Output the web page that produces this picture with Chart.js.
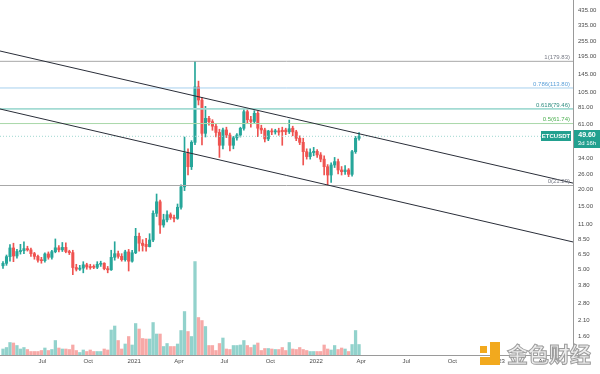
<!DOCTYPE html>
<html>
<head>
<meta charset="utf-8">
<script src="https://cdn.jsdelivr.net/npm/chart.js@4.4.0/dist/chart.umd.min.js"></script>
<style>
  html, body { margin: 0; padding: 0; background: #fff; }
  canvas { display: block; }
</style>
</head>
<body>
<canvas id="chart" width="600" height="374"></canvas>
<script>
// weekly ETCUSDT candles, first bar opens this Monday
const firstWeek = '2020-04-13';

const opens = [5.36, 5.59, 6.27, 7.28, 6.34, 6.85, 6.95, 7.20, 7.05, 6.60,
  6.30, 5.95, 5.85, 6.57, 6.20, 6.83, 7.30, 7.05, 7.35, 6.85,
  6.72, 5.20, 5.05, 5.15, 5.45, 5.25, 5.30, 5.22, 5.50, 5.60,
  5.10, 5.00, 6.20, 6.60, 6.30, 5.95, 6.80, 5.80, 6.70, 8.90,
  7.90, 7.75, 7.45, 8.35, 13.2, 16.1, 10.8, 11.8, 12.9, 12.3,
  12.1, 14.65, 20.8, 37.2, 29.4, 44.7, 116, 92.5, 52.2, 67.5,
  63.8, 59, 53, 42.5, 55.3, 50.7, 42.5, 48.3, 50.7, 56.9,
  75.7, 66, 64, 73.6, 57, 55.3, 47.4, 54.3, 53.5, 54.5,
  55.0, 55.3, 53.6, 57, 53.5, 47.9, 44.7, 38.1, 35, 37.5,
  38.3, 36, 33.5, 29.4, 25.5, 30.3, 32.1, 27.8, 27.0, 27.8,
  25.8, 38.1, 47.9];
const highs = [5.75, 6.45, 7.70, 7.90, 7.10, 7.75, 8.10, 7.50, 7.25, 6.75,
  6.45, 6.20, 6.70, 6.80, 7.00, 8.50, 7.60, 8.00, 7.95, 7.00,
  7.00, 5.50, 5.40, 5.75, 5.60, 5.50, 5.45, 5.75, 5.80, 5.65,
  5.30, 7.00, 8.10, 6.90, 6.60, 7.00, 7.10, 7.00, 10.2, 9.40,
  8.40, 8.60, 9.30, 13.8, 18.4, 16.6, 13.0, 13.8, 13.3, 12.8,
  15.5, 21.5, 49.0, 40.0, 46.0, 179.83, 128, 97, 83, 70,
  66, 61, 56, 57, 58, 52.5, 49.5, 52, 58, 79,
  78.5, 70, 77, 76, 60, 57, 55, 56.5, 56, 57,
  58, 57, 65.6, 59, 55, 50, 48, 40, 40, 41,
  39.5, 37.5, 35.5, 30.5, 31.5, 34.5, 33.5, 29.5, 30, 28.5,
  39, 49.5, 52.8];
const lows = [5.13, 5.40, 5.80, 5.75, 6.10, 6.55, 6.60, 6.90, 6.30, 6.00,
  5.70, 5.60, 5.70, 6.00, 6.00, 6.70, 6.80, 6.85, 6.70, 6.50,
  4.60, 4.90, 4.95, 4.75, 5.05, 5.05, 5.10, 5.10, 5.30, 5.00,
  4.75, 4.95, 5.90, 6.10, 5.80, 5.80, 4.90, 5.70, 6.60, 6.90,
  6.90, 6.90, 7.40, 8.10, 12.5, 9.36, 10.4, 11.4, 11.9, 11.4,
  11.9, 14.2, 19.5, 25.5, 28.0, 43.0, 85, 42.7, 49, 60,
  55, 49, 34.5, 40, 48.5, 38.5, 40, 46.5, 49, 55,
  62, 58, 62, 49.3, 52, 45, 46, 51, 51.5, 50.5,
  42.5, 51, 52, 50, 46, 43, 30.3, 33.5, 33.5, 35.5,
  34.5, 32, 25.5, 21.29, 22.5, 29, 26, 25.5, 25.8, 24.8,
  25, 37, 46.5];
const closes = [5.59, 6.27, 7.28, 6.34, 6.85, 6.95, 7.20, 7.05, 6.60, 6.30,
  5.90, 5.85, 6.57, 6.20, 6.83, 7.30, 7.05, 7.35, 6.85, 6.72,
  5.20, 5.05, 5.15, 5.45, 5.25, 5.20, 5.22, 5.50, 5.60, 5.10,
  5.00, 6.20, 6.60, 6.30, 5.95, 6.80, 5.80, 6.70, 8.90, 7.90,
  7.60, 7.45, 8.35, 13.2, 16.1, 10.8, 11.8, 12.9, 12.3, 12.1,
  14.65, 20.8, 37.2, 29.4, 44.7, 116, 92.5, 52.2, 67.5, 63.8,
  59, 53, 42.5, 55.3, 50.7, 42.5, 48.3, 50.7, 56.9, 75.7,
  66, 64, 73.6, 57, 55.3, 47.4, 54.3, 53.5, 54.5, 53.3,
  53.7, 53.6, 56.5, 53.5, 47.9, 44.7, 38.1, 35, 37.5, 38.3,
  36, 33.5, 29.4, 25.5, 30.3, 32.1, 27.8, 27.0, 27.8, 25.8,
  38.1, 47.9, 49.6];
const volumes = [12, 15, 25, 24, 19, 12, 15, 11, 7, 7,
  7, 9, 14, 9, 11, 29, 14, 12, 12, 11,
  20, 9, 5, 10, 7, 10, 7, 7, 7, 12,
  10, 50, 58, 29, 12, 22, 37, 20, 63, 52,
  33, 32, 32, 65, 42, 42, 17, 23, 17, 17,
  22, 49, 87, 47, 37, 187, 75, 69, 57, 19,
  19, 9, 23, 34, 12, 11, 19, 19, 20, 29,
  19, 15, 20, 24, 9, 13, 13, 12, 11, 11,
  15, 9, 25, 12, 11, 15, 11, 9, 7, 7,
  7, 7, 20, 12, 10, 19, 11, 14, 12, 7,
  21, 49, 21];

const symbol = 'ETCUSDT';
const lastPrice = 49.60;
const timeLeft = '3d 16h';

const fibLevels = [179.83, 113.80, 79.46, 61.74, 21.29];
const fibLabels = ['1(179.83)', '0.786(113.80)', '0.618(79.46)', '0.5(61.74)', '0(21.29)'];
const fibLineColors = ['#a8a8a8', '#a6d0ee', '#a3dbd3', '#a9d8a9', '#a8a8a8'];
const fibTextColors = ['#787b86', '#5a9fd8', '#2f8d80', '#4caf50', '#787b86'];

const priceTicks = [435, 335, 255, 195, 145, 105, 81, 61, 34, 26, 20, 15, 11, 8.5, 6.5, 5, 3.8, 2.8, 2.1, 1.6];
const timeTickDates = ['2020-07-01', '2020-10-01', '2021-01-01', '2021-04-01', '2021-07-01', '2021-10-01',
  '2022-01-01', '2022-04-01', '2022-07-01', '2022-10-01', '2023-01-01', '2023-04-01'];
const timeTickLabels = ['Jul', 'Oct', '2021', 'Apr', 'Jul', 'Oct', '2022', 'Apr', 'Jul', 'Oct', '2023', 'Apr'];

const viewStart = '2020-04-07';
const viewEnd = '2023-05-31';
const upperChannel = [[viewStart, 214.8], [viewEnd, 22.2]];
const lowerChannel = [[viewStart, 79.3], [viewEnd, 8.07]];

const UP = '#26a69a';
const DOWN = '#ef5350';

// days since 2020-01-01, used as the x value
function dayOf(s) {
    const p = s.split('-').map(Number);
    return (Date.UTC(p[0], p[1] - 1, p[2]) - Date.UTC(2020, 0, 1)) / 86400000;
}

const x0 = dayOf(firstWeek);
const xs = opens.map((_, i) => x0 + 7 * i);
const isUp = opens.map((o, i) => closes[i] >= o);
const xMin = dayOf(viewStart);
const xMax = dayOf(viewEnd);

const datasets = [];

// trend channel
[upperChannel, lowerChannel].forEach(line => {
    datasets.push({
        type: 'line',
        data: line.map(p => ({ x: dayOf(p[0]), y: p[1] })),
        borderColor: '#2a2e39',
        borderWidth: 1,
        pointRadius: 0,
        yAxisID: 'y',
        order: 1
    });
});

// fib levels
fibLevels.forEach((lvl, k) => {
    datasets.push({
        type: 'line',
        data: [{ x: xMin, y: lvl }, { x: xMax, y: lvl }],
        borderColor: fibLineColors[k],
        borderWidth: k === 2 ? 1.6 : 1,
        pointRadius: 0,
        yAxisID: 'y',
        order: 3
    });
});

// last price line
datasets.push({
    type: 'line',
    data: [{ x: xMin, y: lastPrice }, { x: xMax, y: lastPrice }],
    borderColor: '#9fd8d0',
    borderWidth: 1,
    borderDash: [1, 2],
    pointRadius: 0,
    yAxisID: 'y',
    order: 3
});

// candle bodies
datasets.push({
    type: 'bar',
    data: xs.map((x, i) => ({ x: x, y: [opens[i], closes[i]] })),
    backgroundColor: isUp.map(u => u ? UP : DOWN),
    barThickness: 2.4,
    minBarLength: 1,
    grouped: false,
    yAxisID: 'y',
    order: 4
});

// wicks
datasets.push({
    type: 'bar',
    data: xs.map((x, i) => ({ x: x, y: [lows[i], highs[i]] })),
    backgroundColor: isUp.map(u => u ? UP : DOWN),
    barThickness: 1,
    grouped: false,
    yAxisID: 'y',
    order: 5
});

// volume
datasets.push({
    type: 'bar',
    data: xs.map((x, i) => ({ x: x, y: volumes[i] })),
    backgroundColor: isUp.map(u => u ? 'rgba(38,166,154,0.5)' : 'rgba(239,83,80,0.5)'),
    barThickness: 2.6,
    grouped: false,
    yAxisID: 'yv',
    order: 10
});

const overlay = {
    id: 'overlay',
    afterDraw(chart) {
        const c = chart.ctx;
        const y = chart.scales.y;
        const area = chart.chartArea;
        c.save();

        // fib texts
        c.font = '6px "Liberation Sans", Arial, sans-serif';
        c.textAlign = 'right';
        c.textBaseline = 'bottom';
        fibLevels.forEach((lvl, k) => {
            c.fillStyle = fibTextColors[k];
            c.fillText(fibLabels[k], area.right - 3, y.getPixelForValue(lvl) - 1);
        });

        // symbol tag and last price tag
        const py = Math.round(y.getPixelForValue(lastPrice));
        c.fillStyle = '#22a08f';
        c.fillRect(area.right - 32, py - 5, 30, 10);
        c.fillRect(area.right + 1, py - 6, 26, 18);
        c.fillStyle = '#fff';
        c.textAlign = 'center';
        c.textBaseline = 'middle';
        c.font = 'bold 6px "Liberation Sans", Arial, sans-serif';
        c.fillText(symbol, area.right - 17, py + 0.5);
        c.font = 'bold 7px "Liberation Sans", Arial, sans-serif';
        c.fillText(lastPrice.toFixed(2), area.right + 14, py - 1);
        c.font = '6px "Liberation Sans", Arial, sans-serif';
        c.fillText(timeLeft, area.right + 14, py + 7);

        // watermark
        c.fillStyle = '#f2a91e';
        c.fillRect(490, 342, 10, 22);
        c.fillRect(480, 357, 20, 8);
        c.fillRect(480, 346, 7, 7);
        c.font = 'bold 21px "Noto Sans CJK SC", sans-serif';
        c.textAlign = 'left';
        c.textBaseline = 'middle';
        c.lineWidth = 1;
        c.fillStyle = 'rgba(236,236,236,0.92)';
        c.strokeStyle = '#9c9c9c';
        c.fillText('金色财经', 507, 354);
        c.strokeText('金色财经', 507, 354);
        c.restore();
    }
};

function noPad(s) {
    s.paddingTop = 0;
    s.paddingBottom = 0;
    s.paddingLeft = 0;
    s.paddingRight = 0;
}

new Chart(document.getElementById('chart'), {
    type: 'bar',
    data: { datasets: datasets },
    options: {
        responsive: false,
        animation: false,
        devicePixelRatio: 1,
        layout: { padding: 0 },
        plugins: { legend: { display: false }, tooltip: { enabled: false } },
        scales: {
            x: {
                type: 'linear',
                position: 'bottom',
                min: xMin,
                max: xMax,
                offset: false,
                grid: { display: false, drawTicks: false },
                border: { color: '#9a9a9a' },
                afterBuildTicks: s => { s.ticks = timeTickDates.map(d => ({ value: dayOf(d) })); },
                afterFit: s => { s.height = 19; noPad(s); },
                ticks: {
                    autoSkip: false,
                    maxRotation: 0,
                    padding: 3,
                    color: '#4a4a4a',
                    font: { size: 6, family: '"Liberation Sans", Arial, sans-serif' },
                    callback: (v, i) => timeTickLabels[i]
                }
            },
            y: {
                type: 'logarithmic',
                position: 'right',
                min: 1.157,
                max: 516,
                grid: { display: false, drawTicks: false },
                border: { color: '#9a9a9a' },
                afterBuildTicks: s => { s.ticks = priceTicks.map(v => ({ value: v })); },
                afterFit: s => { s.width = 27; noPad(s); },
                ticks: {
                    padding: 5,
                    color: '#4a4a4a',
                    font: { size: 6, family: '"Liberation Sans", Arial, sans-serif' },
                    callback: v => Number(v).toFixed(2)
                }
            },
            yv: {
                type: 'linear',
                display: false,
                min: 0,
                max: Math.max(...volumes) * 3.8
            }
        }
    },
    plugins: [overlay]
});
</script>
</body>
</html>
